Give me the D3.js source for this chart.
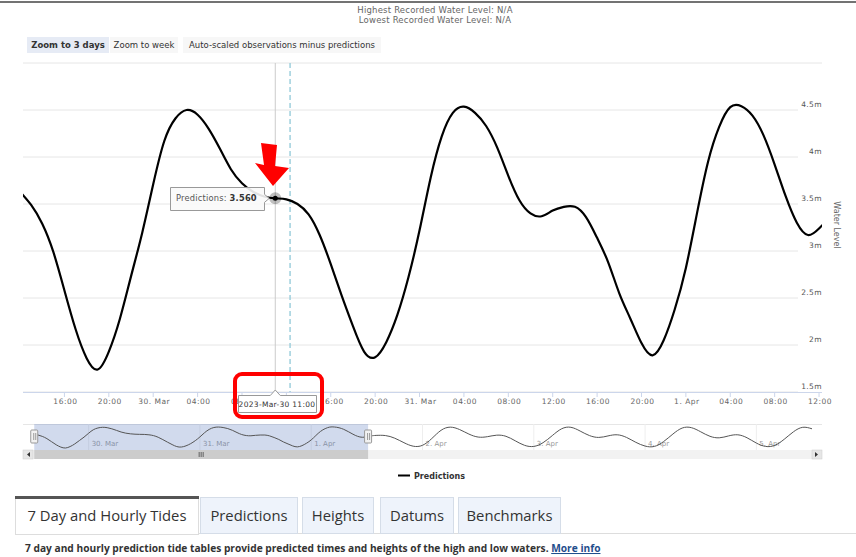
<!DOCTYPE html>
<html><head><meta charset="utf-8">
<script src="https://cdn.jsdelivr.net/npm/d3@7"></script>
<style>
html,body{margin:0;padding:0;background:#fff;width:856px;height:557px;overflow:hidden;}
svg{display:block;}
</style></head><body>
<svg id="c" width="856" height="557"></svg>
<script>
// ---------------- DATA ----------------
const seriesName = "Predictions";
const startTime = Date.UTC(2023, 2, 29, 12);          // first hourly value: 29 Mar 12:00
const hourlyValues = [                                 // hourly predictions, 29 Mar 12:00 .. 1 Apr 13:00 (m)
  3.63, 3.49, 3.29, 2.99, 2.58, 2.17, 1.86, 1.74, 1.93, 2.28, 2.73, 3.19,
  3.71, 4.17, 4.41, 4.50, 4.45, 4.30, 4.09, 3.87, 3.72, 3.63, 3.58, 3.56,
  3.55, 3.50, 3.39, 3.17, 2.86, 2.52, 2.20, 1.93, 1.87, 2.03, 2.32, 2.72,
  3.22, 3.78, 4.22, 4.47, 4.535, 4.47, 4.33, 4.10, 3.80, 3.54, 3.40, 3.37,
  3.43, 3.47, 3.47, 3.36, 3.14, 2.88, 2.55, 2.28, 2.02, 1.89, 2.05, 2.38,
  2.82, 3.40, 3.95, 4.32, 4.53, 4.54, 4.44, 4.23, 3.92, 3.58, 3.30, 3.17,
  3.24, 3.36
];
const laterStart = Date.UTC(2023, 3, 1, 14);          // two-hourly values for the navigator, 1 Apr 14:00 ..
const laterValues = [
  3.42, 3.40, 3.05, 2.45, 1.98, 2.10, 3.00, 4.10, 4.52, 4.20, 3.60, 3.20,
  3.25, 3.45, 3.30, 2.70, 2.10, 1.95, 2.45, 3.40, 4.30, 4.50, 4.00, 3.40,
  3.15, 3.35, 3.50, 3.15, 2.50, 2.00, 1.95, 2.60, 3.60, 4.40, 4.45, 3.90,
  3.30, 3.10, 3.35, 3.50, 3.10, 2.40, 1.95, 2.10, 2.90, 3.90, 4.50, 4.30
];
const viewStart = Date.UTC(2023, 2, 29, 12, 16);
const viewEnd = Date.UTC(2023, 3, 1, 12, 16);
const navStart = Date.UTC(2023, 2, 29, 12);
const navEnd = Date.UTC(2023, 3, 5, 12);
const hoverTime = Date.UTC(2023, 2, 30, 11);
const nowTime = Date.UTC(2023, 2, 30, 12, 20);
const yTicks = [1.5, 2, 2.5, 3, 3.5, 4, 4.5];
const yDomain = [1.5, 5];
const headerLines = ["Highest Recorded Water Level: N/A", "Lowest Recorded Water Level: N/A"];
const buttons = ["Zoom to 3 days", "Zoom to week", "Auto-scaled observations minus predictions"];
const yTitle = "Water Level";
const tabs = ["7 Day and Hourly Tides", "Predictions", "Heights", "Datums", "Benchmarks"];
const infoText = "7 day and hourly prediction tide tables provide predicted times and heights of the high and low waters.";
const infoLink = "More info";

// ---------------- BUILD ----------------
const H = 3600e3;
const data = hourlyValues.map((v, i) => ({t: new Date(startTime + i * H), v}));
const later = laterValues.map((v, i) => ({t: new Date(laterStart + i * 2 * H), v}));
const allData = data.concat(later);

const svg = d3.select("#c");
const FONT = "'DejaVu Sans', Verdana, sans-serif";
const MON = ["Jan","Feb","Mar","Apr","May","Jun","Jul","Aug","Sep","Oct","Nov","Dec"];
const defs = svg.append("defs");

// header
svg.append("line").attr("x1", 0).attr("x2", 856).attr("y1", 2).attr("y2", 2)
  .attr("stroke", "#444").attr("stroke-width", 1.5);
headerLines.forEach((s, i) => svg.append("text").attr("x", 435).attr("y", 13 + i * 10)
  .attr("text-anchor", "middle").attr("font-family", FONT).attr("font-size", 8.5).attr("letter-spacing", 0.2)
  .attr("fill", "#666").text(s));

// buttons
const btnX = [27, 110, 183];
const btnW = [82, 68, 198];
buttons.forEach((b, i) => {
  svg.append("rect").attr("x", btnX[i]).attr("y", 37).attr("width", btnW[i]).attr("height", 16)
    .attr("fill", i === 0 ? "#e6ebf5" : "#f7f7f7");
  svg.append("text").attr("x", btnX[i] + btnW[i] / 2).attr("y", 48).attr("text-anchor", "middle")
    .attr("font-family", FONT).attr("font-size", 8.5).attr("font-weight", i === 0 ? "bold" : "normal")
    .attr("fill", "#333").text(b);
});

// scales
const x = d3.scaleUtc().domain([viewStart, viewEnd]).range([23, 822]);
const y = d3.scaleLinear().domain(yDomain).range([392, 63]);

// grid
svg.append("g").selectAll("line").data(yTicks.concat([5])).join("line")
  .attr("x1", 23).attr("x2", d => d === 5 ? 822 : 798)
  .attr("y1", d => y(d)).attr("y2", d => y(d))
  .attr("stroke", "#e6e6e6").attr("stroke-width", 1);

// y labels (right)
svg.append("g").selectAll("text").data(yTicks).join("text")
  .attr("x", 822).attr("y", d => y(d) - 3).attr("text-anchor", "end")
  .attr("font-family", FONT).attr("font-size", 7.5).attr("letter-spacing", 0.4).attr("fill", "#555")
  .text(d => d + "m");
svg.append("text").attr("transform", "translate(834,225) rotate(90)").attr("text-anchor", "middle")
  .attr("font-family", FONT).attr("font-size", 8).attr("fill", "#666").text(yTitle);

// x tooltip geometry (labels under it are hidden)
const hp = data.find(d => +d.t === hoverTime);
const tx = x(hp.t), ty = y(hp.v);
const boxL = 238.5, boxR = 316.5;
defs.append("clipPath").attr("id", "lblclip").append("path").attr("clip-rule", "evenodd")
  .attr("d", `M0,380 H856 V420 H0 Z M${boxL},380 H${boxR} V420 H${boxL} Z`);

// x axis
svg.append("line").attr("x1", 23).attr("x2", 822).attr("y1", 392.5).attr("y2", 392.5)
  .attr("stroke", "#ccd6eb");
const xTicks = x.ticks(d3.utcHour.every(4)).filter(t => x(t) > 40);
const fmtTick = t => t.getUTCHours() === 0 ? `${t.getUTCDate()}. ${MON[t.getUTCMonth()]}` : d3.utcFormat("%H:%M")(t);
const xg = svg.append("g");
xTicks.forEach(t => {
  xg.append("line").attr("x1", x(t)).attr("x2", x(t)).attr("y1", 392).attr("y2", 397).attr("stroke", "#ccd6eb");
  const lx = x(t);
  if (lx - 12 > boxL && lx + 12 < boxR) return;   // fully covered by the tooltip label
  xg.append("text").attr("x", lx + 1).attr("y", 404).attr("text-anchor", "middle").attr("clip-path", "url(#lblclip)")
    .attr("font-family", FONT).attr("font-size", 7.5).attr("letter-spacing", 0.5).attr("fill", "#666").text(fmtTick(t));
});

// crosshair + now line
svg.append("line").attr("x1", tx).attr("x2", tx).attr("y1", 63).attr("y2", 392)
  .attr("stroke", "#cccccc").attr("stroke-width", 1);
svg.append("line").attr("x1", x(nowTime)).attr("x2", x(nowTime)).attr("y1", 63).attr("y2", 392)
  .attr("stroke", "#9fd0de").attr("stroke-width", 1.5).attr("stroke-dasharray", "5,3");

// series
defs.append("clipPath").attr("id", "pc").append("rect")
  .attr("x", 23).attr("y", 55).attr("width", 799).attr("height", 345);
const line = d3.line().x(d => x(d.t)).y(d => y(d.v)).curve(d3.curveNatural);
svg.append("path").datum(data).attr("clip-path", "url(#pc)").attr("d", line)
  .attr("fill", "none").attr("stroke", "#000").attr("stroke-width", 2.2);

// hovered point
svg.append("circle").attr("cx", tx).attr("cy", ty).attr("r", 6).attr("fill", "rgba(0,0,0,0.25)");
svg.append("circle").attr("cx", tx).attr("cy", ty).attr("r", 2.5).attr("fill", "#000");

// tooltip
svg.append("path").attr("d", `M170.5,187.5 H264.5 V${ty - 4} L${tx - 6},${ty} L264.5,${ty + 4} V210.5 H170.5 Z`)
  .attr("fill", "rgba(250,250,250,0.9)").attr("stroke", "#999").attr("stroke-width", 1);
const tt = svg.append("text").attr("x", 176).attr("y", 201).attr("font-family", FONT).attr("font-size", 8.3)
  .attr("letter-spacing", 0.2).attr("fill", "#555");
tt.append("tspan").text(seriesName + ": ");
tt.append("tspan").attr("font-weight", "bold").attr("fill", "#333").text(hp.v.toFixed(3));

// x tooltip label
svg.append("path").attr("d", `M${boxL},395.5 H${tx - 5} L${tx},390 L${tx + 5},395.5 H${boxR} V412.5 H${boxL} Z`)
  .attr("fill", "#fff").attr("stroke", "#999").attr("stroke-width", 1);
svg.append("text").attr("x", 277).attr("y", 407).attr("text-anchor", "middle").attr("font-family", FONT)
  .attr("font-size", 7.5).attr("letter-spacing", 0.3).attr("fill", "#333")
  .text(`${hp.t.getUTCFullYear()}-${MON[hp.t.getUTCMonth()]}-${hp.t.getUTCDate()} ${d3.utcFormat("%H:%M")(hp.t)}`);

// red highlight + arrow
svg.append("rect").attr("x", 235).attr("y", 374).attr("width", 87).attr("height", 43).attr("rx", 7)
  .attr("fill", "none").attr("stroke", "#ff0000").attr("stroke-width", 4);
svg.append("path").attr("d", "M261,143 L277,145 L275,166 L289,168 L273,186 L255,163 L264,165 Z").attr("fill", "#ff0000");

// navigator
const nx = d3.scaleUtc().domain([navStart, navEnd]).range([33, 812]);
const ny = d3.scaleLinear().domain(d3.extent(allData, d => d.v)).range([448, 427]);
svg.append("line").attr("x1", 23).attr("x2", 822).attr("y1", 424.5).attr("y2", 424.5).attr("stroke", "#e6e6e6");
const days = d3.utcDay.range(new Date(navStart), new Date(navEnd));
days.forEach(d => {
  svg.append("line").attr("x1", nx(d)).attr("x2", nx(d)).attr("y1", 424).attr("y2", 450).attr("stroke", "#eeeeee");
  svg.append("text").attr("x", nx(d) + 3).attr("y", 446).attr("font-family", FONT).attr("font-size", 7)
    .attr("fill", "#999").text(`${d.getUTCDate()}. ${MON[d.getUTCMonth()]}`);
});
svg.append("rect").attr("x", nx(viewStart)).attr("y", 424).attr("width", nx(viewEnd) - nx(viewStart)).attr("height", 26)
  .attr("fill", "rgba(102,133,194,0.3)");
const nline = d3.line().x(d => nx(d.t)).y(d => ny(d.v)).curve(d3.curveNatural);
svg.append("path").datum(allData.filter(d => +d.t <= navEnd)).attr("d", nline).attr("fill", "none")
  .attr("stroke", "#555").attr("stroke-width", 1);
[nx(viewStart), nx(viewEnd)].forEach(hx => {
  svg.append("rect").attr("x", hx - 3.5).attr("y", 430).attr("width", 7).attr("height", 13).attr("rx", 1)
    .attr("fill", "#f2f2f2").attr("stroke", "#999");
  svg.append("line").attr("x1", hx - 0.5).attr("x2", hx - 0.5).attr("y1", 433).attr("y2", 440).attr("stroke", "#999");
  svg.append("line").attr("x1", hx + 1.5).attr("x2", hx + 1.5).attr("y1", 433).attr("y2", 440).attr("stroke", "#999");
});
// scrollbar
svg.append("rect").attr("x", 23).attr("y", 450).attr("width", 799).attr("height", 9).attr("fill", "#f2f2f2");
svg.append("rect").attr("x", nx(viewStart)).attr("y", 450).attr("width", nx(viewEnd) - nx(viewStart)).attr("height", 9).attr("fill", "#cccccc");
const mid = (nx(viewStart) + nx(viewEnd)) / 2;
[-2, 0, 2].forEach(o => svg.append("line").attr("x1", mid + o).attr("x2", mid + o).attr("y1", 452).attr("y2", 457).attr("stroke", "#333").attr("stroke-width", 0.7));
[[23, "M27,454.5 L30,452 L30,457 Z"], [812, "M818,454.5 L815,452 L815,457 Z"]].forEach(([bx, p]) => {
  svg.append("rect").attr("x", bx).attr("y", 450).attr("width", 10).attr("height", 9).attr("fill", "#e6e6e6").attr("stroke", "#ccc").attr("stroke-width", 0.5);
  svg.append("path").attr("d", p).attr("fill", "#333");
});

// legend
svg.append("line").attr("x1", 398).attr("x2", 410).attr("y1", 475.5).attr("y2", 475.5).attr("stroke", "#000").attr("stroke-width", 2);
svg.append("text").attr("x", 414).attr("y", 478.5).attr("font-family", FONT).attr("font-size", 8)
  .attr("font-weight", "bold").attr("fill", "#333").text(seriesName);

// tabs
const tabX = [15, 200, 302, 380, 458];
const tabW = [183, 97, 71, 73, 102];
svg.append("line").attr("x1", 15).attr("x2", 856).attr("y1", 533.5).attr("y2", 533.5).attr("stroke", "#ddd");
tabs.forEach((t, i) => {
  svg.append("rect").attr("x", tabX[i] + 0.5).attr("y", 497.5).attr("width", tabW[i]).attr("height", i === 0 ? 37 : 36)
    .attr("fill", i === 0 ? "#fff" : "#eef3fb").attr("stroke", i === 0 ? "#ddd" : "#d5dde8");
  if (i === 0) svg.append("rect").attr("x", tabX[i]).attr("y", 496).attr("width", tabW[i] + 1).attr("height", 3).attr("fill", "#555");
  svg.append("text").attr("x", tabX[i] + tabW[i] / 2 + 0.5).attr("y", 521).attr("text-anchor", "middle")
    .attr("font-family", "'Open Sans', sans-serif").attr("font-size", 14.8).attr("fill", "#333").text(t);
});
const it = svg.append("text").attr("x", 25).attr("y", 552).attr("font-family", "'Open Sans', sans-serif")
  .attr("font-size", 10.2).attr("font-weight", "bold").attr("fill", "#333");
it.append("tspan").text(infoText + " ");
it.append("tspan").attr("fill", "#1f4e8c").attr("text-decoration", "underline").text(infoLink);
</script>
</body></html>
